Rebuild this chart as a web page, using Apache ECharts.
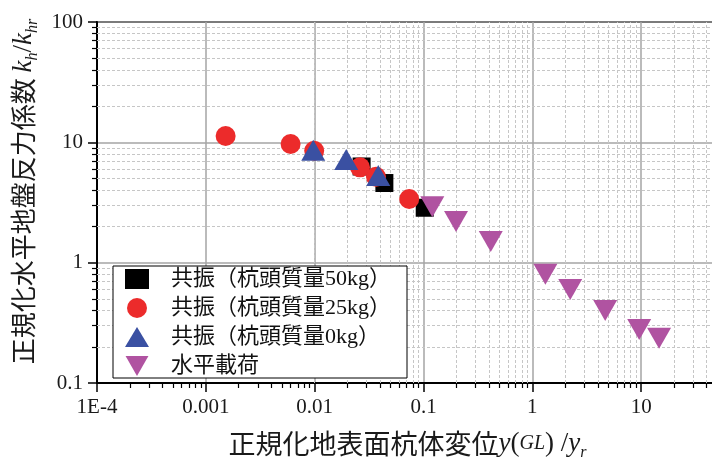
<!DOCTYPE html>
<html><head><meta charset="utf-8">
<script src="https://cdn.jsdelivr.net/npm/echarts@6/dist/echarts.min.js"></script>
<style>html,body{margin:0;padding:0;background:#fff}#c{width:712px;height:468px}</style>
</head><body><div id="c"></div>
<script>
// ---- data ----
const seriesNames = ['共振（杭頭質量50kg）', '共振（杭頭質量25kg）', '共振（杭頭質量0kg）', '水平載荷'];
const mass50X = [0.027, 0.0437, 0.1026];
const mass50Y = [6.3, 4.59, 2.86];
const mass25X = [0.00152, 0.00601, 0.0099, 0.0261, 0.0366, 0.0739];
const mass25Y = [11.3, 9.68, 8.51, 6.20, 5.18, 3.38];
const mass0X = [0.0097, 0.0195, 0.0384];
const mass0Y = [8.58, 7.19, 5.30];
const staticX = [0.1205, 0.199, 0.415, 1.318, 2.23, 4.67, 9.59, 14.6];
const staticY = [2.92, 2.20, 1.50, 0.801, 0.597, 0.400, 0.279, 0.235];
const xTickValues = [1e-4, 1e-3, 1e-2, 0.1, 1, 10, 100];
const xTickLabels = ['1E-4', '0.001', '0.01', '0.1', '1', '10', '100'];
const yTickValues = [0.1, 1, 10, 100];
const yTickLabels = ['0.1', '1', '10', '100'];
const minorMultipliers = [2, 3, 4, 5, 6, 7, 8, 9];
const xDecades = [1e-4, 1e-3, 1e-2, 0.1, 1, 10];
const yDecades = [0.1, 1, 10];

// ---- helpers ----
const zip = (xs, ys) => xs.map((x, i) => [x, ys[i]]);
const minorOf = decs => decs.flatMap(d => minorMultipliers.map(m => +(d * m).toPrecision(6)));
const xMinor = minorOf(xDecades);
const yMinor = minorOf(yDecades);
const labelFor = (vals, labels) => v => {
  const i = vals.findIndex(t => Math.abs(Math.log10(t) - Math.log10(v)) < 1e-6);
  return i >= 0 ? labels[i] : '';
};
const serif = "'Liberation Serif','Noto Sans CJK JP',serif";
const cjk = "'Noto Sans CJK JP','Liberation Serif',sans-serif";
const tickFont = {fontFamily: serif, fontSize: 21, color: '#1a1a1a'};
const richTitle = {
  i: {fontFamily: serif, fontStyle: 'italic', fontSize: 27, color: '#1a1a1a', lineHeight: 34},
  n: {fontFamily: serif, fontSize: 27, color: '#1a1a1a', lineHeight: 34},
  g: {fontFamily: serif, fontStyle: 'italic', fontSize: 20, color: '#1a1a1a', lineHeight: 34},
  s: {fontFamily: serif, fontStyle: 'italic', fontSize: 16, color: '#1a1a1a', lineHeight: 16, verticalAlign: 'bottom'}
};
const gridMajor = {show: true, lineStyle: {color: '#a4a4a4', width: 1.5}};

const chart = echarts.init(document.getElementById('c'), null, {renderer: 'canvas'});
chart.setOption({
  animation: false,
  backgroundColor: '#fff',
  grid: {left: 97, top: 22, right: -38, bottom: 85, show: true, borderColor: '#000', borderWidth: 2,
         containLabel: false, outerBoundsMode: 'none'},
  xAxis: [{
    type: 'log', logBase: 10, min: 1e-4, max: 100, position: 'bottom',
    axisLine: {show: true, onZero: false, lineStyle: {color: '#000', width: 2}},
    axisTick: {show: true, length: 9, lineStyle: {color: '#000', width: 1.5}},
    axisLabel: Object.assign({margin: 14, formatter: labelFor(xTickValues, xTickLabels)}, tickFont),
    splitLine: gridMajor,
    name: '正規化地表面杭体変位{i|y}{n|(}{g|GL}{n|)}{n| /}{i|y}{s|r}',
    nameLocation: 'middle', nameGap: 44,
    nameTextStyle: {fontFamily: cjk, fontSize: 27, color: '#1a1a1a', lineHeight: 34, rich: richTitle, padding: [0, 32, 0, 0]}
  }, {
    type: 'log', logBase: 10, min: 1e-4, max: 100, position: 'bottom', gridIndex: 0,
    axisLine: {show: false, onZero: false},
    axisTick: {show: true, length: 5, customValues: xMinor, lineStyle: {color: '#000', width: 1.2}},
    axisLabel: {show: false}, splitLine: {show: false}
  }],
  yAxis: [{
    type: 'log', logBase: 10, min: 0.1, max: 100, position: 'left',
    axisLine: {show: true, onZero: false, lineStyle: {color: '#000', width: 2}},
    axisTick: {show: true, length: 9, lineStyle: {color: '#000', width: 1.5}},
    axisLabel: Object.assign({margin: 14, formatter: labelFor(yTickValues, yTickLabels)}, tickFont),
    splitLine: gridMajor,
    name: '正規化水平地盤反力係数 {i|k}{s|h}{n|/}{i|k}{s|hr}',
    nameLocation: 'middle', nameGap: 56, nameRotate: 90,
    nameTextStyle: {fontFamily: cjk, fontSize: 26, color: '#1a1a1a', lineHeight: 34, rich: richTitle, padding: [0, 0, 0, 22]}
  }, {
    type: 'log', logBase: 10, min: 0.1, max: 100, position: 'left', gridIndex: 0,
    axisLine: {show: false, onZero: false},
    axisTick: {show: true, length: 5, customValues: yMinor, lineStyle: {color: '#000', width: 1.2}},
    axisLabel: {show: false}, splitLine: {show: false}
  }],
  legend: {
    data: seriesNames.map((n, i) => i === 3 ? {name: n, icon: 'path://M0,0L24,0L12,21Z'} : n),
    orient: 'vertical', left: 113, top: 266,
    itemWidth: 24, itemHeight: 20, itemGap: 7, z: 10,
    padding: [2, 16, 1, 12], borderColor: '#000', borderWidth: 1, backgroundColor: '#fff',
    selectedMode: false,
    textStyle: {fontFamily: serif, fontSize: 22, color: '#111', padding: [0, 0, 0, 17]}
  },
  series: [{
    type: 'scatter', data: [], silent: true, z: 1, xAxisIndex: 0, yAxisIndex: 0,
    markLine: {
      silent: true, animation: false, z: 1, symbol: ['none', 'none'], label: {show: false},
      lineStyle: {type: [3, 2], color: '#c6c6c6', width: 1},
      emphasis: {disabled: true},
      data: xMinor.map(v => ({xAxis: v})).concat(yMinor.map(v => ({yAxis: v})))
    }
  }, {
    name: seriesNames[0], type: 'scatter', data: zip(mass50X, mass50Y), z: 3,
    symbol: 'rect', symbolSize: 18, itemStyle: {color: '#000', opacity: 1}
  }, {
    name: seriesNames[1], type: 'scatter', data: zip(mass25X, mass25Y), z: 3,
    symbol: 'circle', symbolSize: 20, itemStyle: {color: '#ec2b2b', opacity: 1}
  }, {
    name: seriesNames[2], type: 'scatter', data: zip(mass0X, mass0Y), z: 3,
    symbol: 'triangle', symbolSize: [24, 21], itemStyle: {color: '#3a50a2', opacity: 1}
  }, {
    name: seriesNames[3], type: 'scatter', data: zip(staticX, staticY), z: 3,
    symbol: 'triangle', symbolRotate: 180, symbolSize: [24, 21], itemStyle: {color: '#b053a1', opacity: 1}
  }]
});
</script>
</body></html>
